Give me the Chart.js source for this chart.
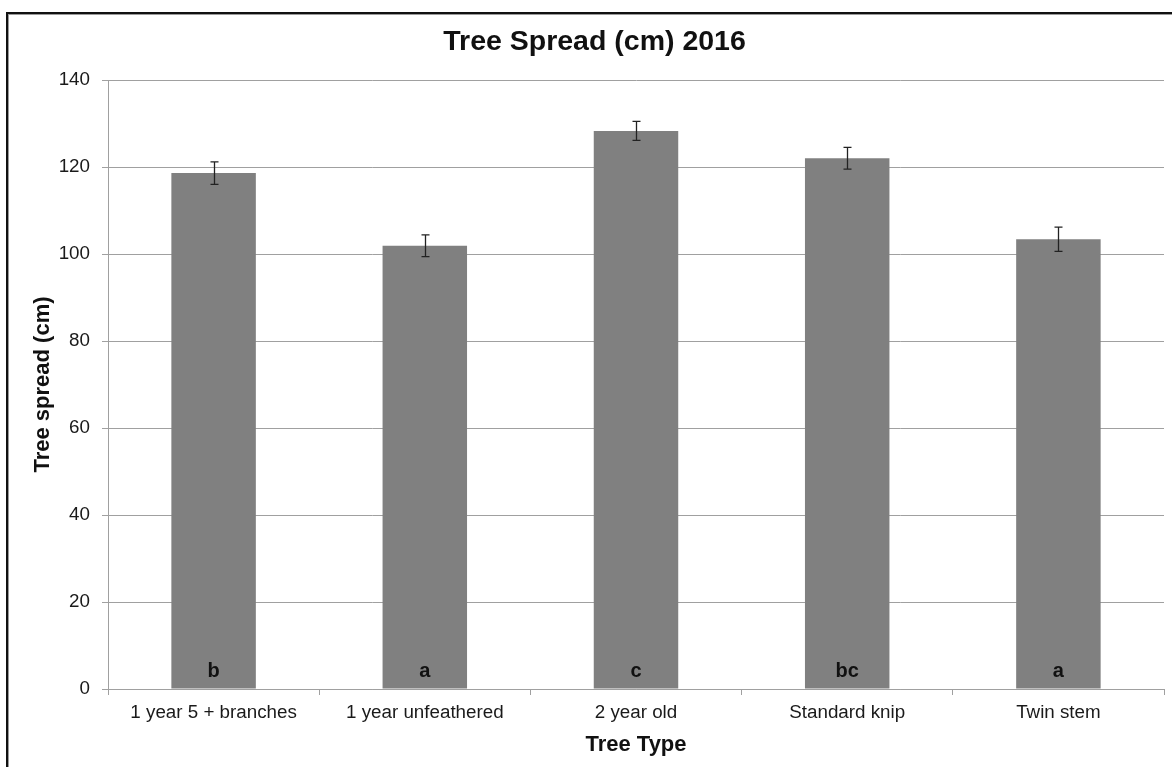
<!DOCTYPE html>
<html>
<head>
<meta charset="utf-8">
<title>Tree Spread (cm) 2016</title>
<script src="https://cdn.jsdelivr.net/npm/chart.js@4/dist/chart.umd.min.js"></script>
<style>
  html, body { margin: 0; padding: 0; background: #ffffff; }
  #wrap { width: 1172px; height: 767px; position: relative; }
</style>
</head>
<body>
<div id="wrap"><canvas id="chart" width="1172" height="767"></canvas></div>
<script>
// Tree types and mean spread (cm), with standard errors and significance groups
const categories = ['1 year 5 + branches', '1 year unfeathered', '2 year old', 'Standard knip', 'Twin stem'];
const spread = [118.6, 101.9, 128.3, 122.0, 103.4];
const stdErr = [2.6, 2.5, 2.2, 2.5, 2.8];
const groups = ['b', 'a', 'c', 'bc', 'a'];
const yTicks = [0, 20, 40, 60, 80, 100, 120, 140];

const FONT = "'Liberation Sans', Arial, Helvetica, sans-serif";
const GRID = '#a0a0a0';

// Outer frame of the figure
const framePlugin = {
  id: 'frame',
  beforeDraw(chart) {
    const ctx = chart.ctx;
    ctx.save();
    ctx.fillStyle = '#ffffff';
    ctx.fillRect(0, 0, chart.width, chart.height);
    ctx.fillStyle = '#111111';
    ctx.fillRect(6, 12, chart.width - 6, 2);
    ctx.fillRect(6, 12, 2, chart.height - 12);
    ctx.fillStyle = '#9a9a9a';
    ctx.fillRect(8, 14, chart.width - 8, 1);
    ctx.fillRect(8, 14, 1, chart.height - 14);
    ctx.restore();
  }
};

// Error bars and group letters on each bar
const barExtras = {
  id: 'barExtras',
  afterDatasetsDraw(chart) {
    const ctx = chart.ctx;
    const yScale = chart.scales.y;
    const meta = chart.getDatasetMeta(0);
    ctx.save();
    meta.data.forEach((bar, i) => {
      const x = Math.round(bar.x) + 0.5;
      const yTop = yScale.getPixelForValue(spread[i] + stdErr[i]);
      const yBot = yScale.getPixelForValue(spread[i] - stdErr[i]);
      ctx.strokeStyle = '#222222';
      ctx.lineWidth = 1.3;
      ctx.beginPath();
      ctx.moveTo(x, yTop); ctx.lineTo(x, yBot);
      ctx.moveTo(x - 4, yTop); ctx.lineTo(x + 4, yTop);
      ctx.moveTo(x - 4, yBot); ctx.lineTo(x + 4, yBot);
      ctx.stroke();

      ctx.fillStyle = '#111111';
      ctx.font = 'bold 20px ' + FONT;
      ctx.textAlign = 'center';
      ctx.textBaseline = 'alphabetic';
      ctx.fillText(groups[i], bar.x, yScale.getPixelForValue(0) - 12);
    });
    ctx.restore();
  }
};

new Chart(document.getElementById('chart'), {
  type: 'bar',
  data: {
    labels: categories,
    datasets: [{
      data: spread,
      backgroundColor: '#808080',
      borderWidth: 0,
      categoryPercentage: 1.0,
      barPercentage: 0.4
    }]
  },
  options: {
    responsive: false,
    animation: false,
    devicePixelRatio: 1,
    layout: { padding: { left: 25, right: 8, top: 0, bottom: 0 } },
    plugins: {
      legend: { display: false },
      tooltip: { enabled: false },
      title: {
        display: true,
        text: 'Tree Spread (cm) 2016',
        color: '#111111',
        font: { family: FONT, size: 28.5, weight: 'bold' },
        padding: { top: 25, bottom: 20.8 }
      }
    },
    scales: {
      x: {
        afterFit(scale) { scale.height = 78; },
        grid: {
          offset: true,
          drawOnChartArea: false,
          drawTicks: true,
          tickLength: 6,
          color: GRID
        },
        border: { color: GRID, width: 1 },
        ticks: {
          color: '#1a1a1a',
          padding: 7,
          maxRotation: 0,
          font: { family: FONT, size: 18.8 }
        },
        title: {
          display: true,
          text: 'Tree Type',
          color: '#111111',
          font: { family: FONT, size: 22, weight: 'bold' },
          padding: { top: 0, bottom: 9 }
        }
      },
      y: {
        min: 0,
        max: 140,
        afterFit(scale) { scale.width = 83; },
        afterBuildTicks(scale) { scale.ticks = yTicks.map(v => ({ value: v })); },
        grid: {
          color: GRID,
          drawTicks: true,
          tickLength: 6
        },
        border: { color: GRID, width: 1 },
        ticks: {
          color: '#1a1a1a',
          padding: 12,
          font: { family: FONT, size: 18.8 }
        },
        title: {
          display: true,
          text: 'Tree spread (cm)',
          color: '#111111',
          font: { family: FONT, size: 22, weight: 'bold' },
          padding: { top: 5, bottom: 0 }
        }
      }
    }
  },
  plugins: [framePlugin, barExtras]
});
</script>
</body>
</html>
